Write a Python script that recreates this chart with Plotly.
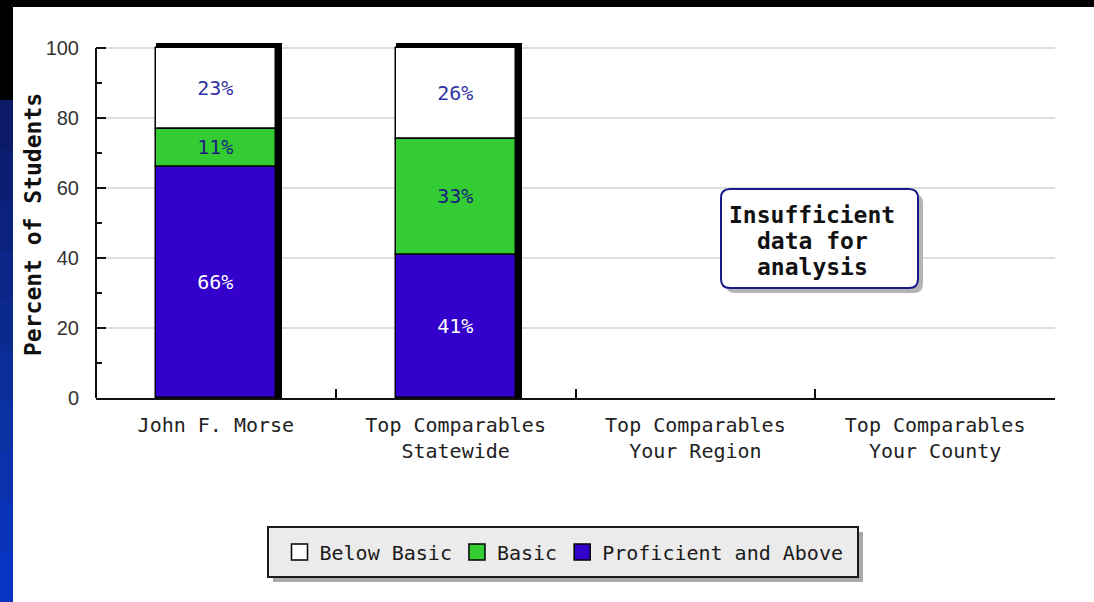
import plotly.graph_objects as go

# ---------------- data ----------------
categories = ["John F. Morse", "Top Comparables<br>Statewide",
              "Top Comparables<br>Your Region", "Top Comparables<br>Your County"]
proficient = [66, 41, None, None]
basic = [11, 33, None, None]
below_basic = [23, 26, None, None]
series_names = ["Below Basic", "Basic", "Proficient and Above"]
series_colors = ["white", "#33cc33", "#3300cc"]
label_colors = ["#3333a8", "#1c1c80", "white"]
y_ticks = [0, 20, 40, 60, 80, 100]
note_lines = ["Insufficient", "data for", "analysis"]
y_title = "Percent of Students"

# ---------------- geometry helpers (styling only) ----------------
W, H = 1094, 602
L, R, T, B = 96, 39, 43, 204
PW, PH = W - L - R, H - T - B
PX_PER_UNIT = 3.5
Y_TOP = 100 + (48 - T) / PX_PER_UNIT


def px(xp):
    return (xp - L) / PW


def py(yp):
    return (H - B - yp) / PH


def rrect_path(x0, y0, x1, y1, r):
    X, Y = px, py
    pts = [
        f"M{X(x0 + r)},{Y(y0)}",
        f"L{X(x1 - r)},{Y(y0)}",
        f"Q{X(x1)},{Y(y0)} {X(x1)},{Y(y0 + r)}",
        f"L{X(x1)},{Y(y1 - r)}",
        f"Q{X(x1)},{Y(y1)} {X(x1 - r)},{Y(y1)}",
        f"L{X(x0 + r)},{Y(y1)}",
        f"Q{X(x0)},{Y(y1)} {X(x0)},{Y(y1 - r)}",
        f"L{X(x0)},{Y(y0 + r)}",
        f"Q{X(x0)},{Y(y0)} {X(x0 + r)},{Y(y0)}",
        "Z",
    ]
    return " ".join(pts)


# ---------------- derived stacking ----------------
def add(a, b):
    return [None if (u is None or v is None) else u + v for u, v in zip(a, b)]


base_basic = proficient
base_below = add(proficient, basic)
totals = add(base_below, below_basic)
shadow = [None if t is None else t + 5 / PX_PER_UNIT for t in totals]


def pct(vals):
    return [None if v is None else f"{v}%" for v in vals]


MONO = "DejaVu Sans Mono"
edge = dict(color="black", width=1.5)

fig = go.Figure()

# 3D shadow behind bars
fig.add_trace(go.Bar(
    x=categories, y=shadow, base=0, width=0.525, offset=-0.25,
    marker=dict(color="black", line=dict(width=0)),
    showlegend=False, hoverinfo="skip",
))

stack = [(below_basic, base_below), (basic, base_basic), (proficient, [0] * 4)]
for (vals, base), name, col, lcol in zip(stack, series_names, series_colors, label_colors):
    fig.add_trace(go.Bar(
        name=name, x=categories, y=vals, base=base,
        width=0.5, offset=-0.25,
        marker=dict(color=col, line=edge),
        text=pct(vals), textposition="inside", insidetextanchor="middle",
        textfont=dict(family=MONO, size=20, color=lcol),
        showlegend=False,
    ))

# legend proxies (larger swatches)
for name, col in zip(series_names, series_colors):
    fig.add_trace(go.Scatter(
        x=[None], y=[None], mode="markers", name=name,
        marker=dict(symbol="square", size=16, color=col, line=dict(color="black", width=1.5)),
    ))

shapes = []
# slide background: top black band + left blue strip
shapes.append(dict(type="rect", xref="paper", yref="paper", layer="below",
                   x0=px(0), x1=px(W), y0=py(0), y1=py(7),
                   fillcolor="black", line=dict(width=0)))
shapes.append(dict(type="rect", xref="paper", yref="paper", layer="below",
                   x0=px(0), x1=px(13), y0=py(0), y1=py(110),
                   fillcolor="black", line=dict(width=0)))
blues = ["#0a1a66", "#0b1e72", "#0b227c", "#0b2686", "#0b2a90",
         "#0b2d9a", "#0a30a4", "#0a32ae", "#0934b8", "#0836c2"]
step = (H - 100) / len(blues)
for i, c in enumerate(blues):
    y0 = 100 + i * step
    shapes.append(dict(type="rect", xref="paper", yref="paper", layer="below",
                       x0=px(0), x1=px(13), y0=py(y0), y1=py(y0 + step + 1),
                       fillcolor=c, line=dict(width=0)))

# y axis line from 0 to 100 only
shapes.append(dict(type="line", xref="paper", yref="y", layer="above",
                   x0=0, x1=0, y0=0, y1=100, line=dict(color="#111111", width=2)))

# note box (shadow + rounded box)
shapes.append(dict(type="path", xref="paper", yref="paper", layer="above",
                   path=rrect_path(726, 194, 923, 293, 9),
                   fillcolor="#b4b4b4", line=dict(width=0)))
shapes.append(dict(type="path", xref="paper", yref="paper", layer="above",
                   path=rrect_path(721, 189, 918, 288, 9),
                   fillcolor="white", line=dict(color="#1a1a8c", width=2)))
# legend frame with shadow
shapes.append(dict(type="rect", xref="paper", yref="paper", layer="above",
                   x0=px(273), x1=px(863), y0=py(532), y1=py(582),
                   fillcolor="#a8a8a8", line=dict(width=0)))
shapes.append(dict(type="rect", xref="paper", yref="paper", layer="above",
                   x0=px(268), x1=px(858), y0=py(527), y1=py(577),
                   fillcolor="#ebebeb", line=dict(color="#1a1a1a", width=2)))

annotations = []
for line_text, yy in zip(note_lines, [215, 241, 267]):
    annotations.append(dict(
        xref="paper", yref="paper", x=px(812), y=py(yy),
        text="<b>" + line_text + "</b>", showarrow=False,
        font=dict(family=MONO, size=23, color="#111111"),
        xanchor="center", yanchor="middle",
    ))
annotations.append(dict(
    xref="paper", yref="paper", x=px(33), y=py(225),
    text="<b>" + y_title + "</b>", showarrow=False, textangle=-90,
    font=dict(family=MONO, size=23, color="#111111"),
    xanchor="center", yanchor="middle",
))

fig.update_layout(
    width=W, height=H,
    margin=dict(l=L, r=R, t=T, b=B, pad=0),
    paper_bgcolor="white", plot_bgcolor="white",
    barmode="overlay", bargap=0,
    shapes=shapes,
    showlegend=True,
    legend=dict(
        orientation="h", x=px(564), y=py(552), xanchor="center", yanchor="middle",
        bgcolor="rgba(0,0,0,0)", borderwidth=0,
        font=dict(family=MONO, size=20, color="#1a1a1a"),
        traceorder="normal", itemwidth=30,
    ),
    annotations=annotations,
)

fig.update_xaxes(
    type="category", categoryorder="array", categoryarray=categories,
    range=[-0.5, 3.5],
    showline=True, linecolor="#111111", linewidth=2,
    ticks="inside", tickson="boundaries", ticklen=9, tickwidth=2, tickcolor="#111111",
    showgrid=False, zeroline=False,
    tickfont=dict(family=MONO, size=20, color="#222222"),
    ticklabelstandoff=8,
)
fig.update_yaxes(
    range=[0, Y_TOP], tickvals=y_ticks,
    showline=False,
    ticks="inside", ticklen=10, tickwidth=2, tickcolor="#111111",
    minor=dict(tickvals=[10, 30, 50, 70, 90], ticks="inside", ticklen=6, tickwidth=2,
               tickcolor="#111111", showgrid=False),
    showgrid=True, gridcolor="#dedede", gridwidth=1.5, zeroline=False,
    tickfont=dict(family="Liberation Sans", size=20, color="#333333"),
    ticklabelstandoff=16,
)

fig.write_html("out.html", config={"displayModeBar": False},
               post_script="document.body.style.margin='0px';")
